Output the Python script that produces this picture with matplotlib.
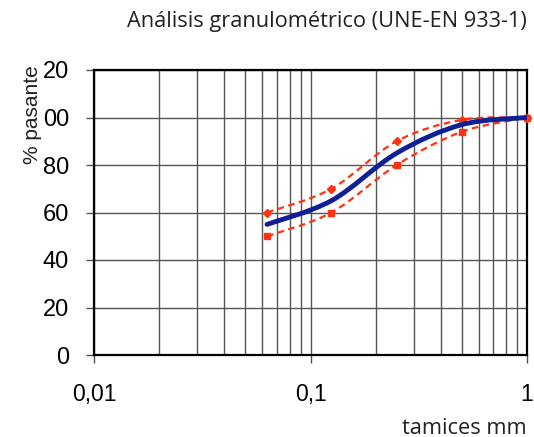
import numpy as np
import matplotlib
matplotlib.use("Agg")
import matplotlib.pyplot as plt
from matplotlib.path import Path
from matplotlib.patches import PathPatch
from matplotlib.ticker import FixedLocator, NullFormatter

sieves = [0.063, 0.125, 0.25, 0.5, 1.0]
passing = [55, 65, 85, 97, 100]
upper_limit = [60, 70, 90, 99, 100]
lower_limit = [50, 60, 80, 94, 100]
y_ticks = [0, 20, 40, 60, 80, 100, 120]
y_tick_labels = ["0", "20", "40", "60", "80", "00", "20"]
x_ticks = [0.01, 0.1, 1]
x_tick_labels = ["0,01", "0,1", "1"]

fig = plt.figure(figsize=(5.34, 4.37), dpi=100)
ax = fig.add_axes([94/534, 1-355/437, 433/534, 285/437])
ax.set_xscale("log")
ax.set_xlim(0.01, 1)
ax.set_ylim(0, 120)

def smooth_path(xs, ys, t=0.5/3):
    lx = np.log10(xs); ys = np.asarray(ys, float)
    n = len(lx)
    verts = [(xs[0], ys[0])]
    codes = [Path.MOVETO]
    for i in range(n-1):
        p0 = (lx[max(i-1,0)], ys[max(i-1,0)])
        p1 = (lx[i], ys[i]); p2 = (lx[i+1], ys[i+1])
        p3 = (lx[min(i+2,n-1)], ys[min(i+2,n-1)])
        c1 = (p1[0] + (p2[0]-p0[0])*t, p1[1] + (p2[1]-p0[1])*t)
        c2 = (p2[0] - (p3[0]-p1[0])*t, p2[1] - (p3[1]-p1[1])*t)
        for c in (c1, c2, p2):
            verts.append((10**c[0], c[1]))
        codes += [Path.CURVE4]*3
    return Path(verts, codes)

red = "#ff3311"
blue = "#0f1f96"
for ys, mk, ms in ((upper_limit, "D", 4), (lower_limit, "s", 5)):
    ax.add_patch(PathPatch(smooth_path(sieves, ys), fill=False, edgecolor=red,
                           lw=1.6, ls=(0, (3, 2)), zorder=4))
    ax.plot(sieves, ys, ls="none", marker=mk, ms=ms, color=red, zorder=5, clip_on=False)
ax.add_patch(PathPatch(smooth_path(sieves, passing), fill=False, edgecolor=blue,
                       lw=3.5, zorder=6, capstyle="round"))

ax.xaxis.set_major_locator(FixedLocator(x_ticks))
ax.set_xticklabels(x_tick_labels)
ax.xaxis.set_minor_locator(FixedLocator([m*10.0**e for e in (-2, -1) for m in range(2, 10)]))
ax.xaxis.set_minor_formatter(NullFormatter())
ax.set_yticks(y_ticks)
ax.set_yticklabels(y_tick_labels)

ax.grid(True, which="both", axis="x", color="#555555", lw=1.0)
ax.grid(True, which="major", axis="y", color="#555555", lw=1.0)
ax.set_axisbelow(True)
for s in ax.spines.values():
    s.set_color("black")
    s.set_linewidth(1.6)

ax.tick_params(axis="x", which="major", length=6, width=1.0, color="#555555",
               pad=14, labelsize=16.5)
ax.tick_params(axis="x", which="minor", length=0)
ax.tick_params(axis="y", which="major", length=6, width=1.0, color="#555555",
               pad=12, labelsize=17)
for lab in ax.get_xticklabels() + ax.get_yticklabels():
    lab.set_family("Liberation Sans")

fig.text(527/534, 1-22/437, "Análisis granulométrico (UNE-EN 933-1)", ha="right", va="center",
         fontsize=15.7, family="Open Sans", color="#222222")
fig.text(527/534, 1-428/437, "tamices mm", ha="right", va="center",
         fontsize=15.7, family="Open Sans", color="#222222")
fig.text(32/534, 1-115/437, "% pasante", ha="center", va="center", rotation=90,
         fontsize=15, family="Liberation Sans", color="#222222")

fig.savefig("out.png", dpi=100)
